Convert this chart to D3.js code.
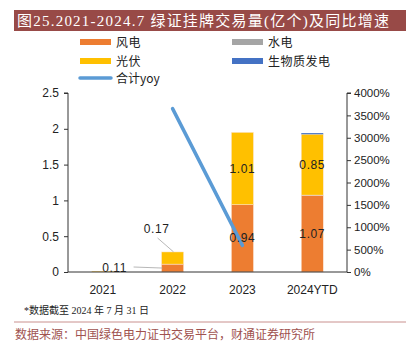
<!DOCTYPE html>
<html><head><meta charset="utf-8">
<script src="https://cdn.jsdelivr.net/npm/d3@7"></script>
<style>
body{margin:0;background:#fff}
svg{display:block}
</style></head><body>
<div id="chart"></div>
<script>
const years=["2021","2022","2023","2024YTD"];
const wind=[0.002,0.11,0.94,1.07];
const hydro=[0,0,0,0.004];
const solar=[0.006,0.17,1.01,0.85];
const biomass=[0,0,0,0.016];
const yoy=[null,3650,596,null];
const leftTicks=[0,0.5,1,1.5,2,2.5];
const rightTicks=[0,500,1000,1500,2000,2500,3000,3500,4000];
const series=[
  {key:"风电",vals:wind,color:"#ed7d31"},
  {key:"水电",vals:hydro,color:"#a5a5a5"},
  {key:"光伏",vals:solar,color:"#ffc000"},
  {key:"生物质发电",vals:biomass,color:"#4472c4"}
];

(function(){
  const W=414,H=344;
  const svg=d3.select("#chart").append("svg").attr("width",W).attr("height",H);
  const sans="'Liberation Sans',Arial,'Noto Sans CJK SC',sans-serif";
  const cjk="'Noto Sans CJK SC',sans-serif";

  // title bar
  svg.append("rect").attr("x",14).attr("y",10).attr("width",392).attr("height",21).attr("fill","#984a47");
  svg.append("text").attr("x",17).attr("y",26).attr("fill","#fff").attr("font-size",15)
    .attr("font-family","'Liberation Serif','Noto Sans CJK SC',serif")
    .attr("textLength",372).attr("lengthAdjust","spacing")
    .text("图25.2021-2024.7 绿证挂牌交易量(亿个)及同比增速");

  const m={left:68,right:347,top:93,bottom:272};
  const x=d3.scaleBand().domain(years).range([m.left,m.right]).paddingInner(0.685).paddingOuter(0.34);
  const y=d3.scaleLinear().domain([0,2.5]).range([m.bottom,m.top]);
  const y2=d3.scaleLinear().domain([0,4000]).range([m.bottom,m.top]);

  // legend
  const leg=[[80,42],[232,42],[80,61],[232,61]];
  series.forEach((s,i)=>{
    const [lx,ly]=leg[i];
    svg.append("rect").attr("x",lx).attr("y",ly-3).attr("width",31).attr("height",6).attr("fill",s.color);
    svg.append("text").attr("x",lx+36).attr("y",ly+4.5).attr("font-size",12).attr("font-family",cjk)
      .attr("letter-spacing",0.5).attr("fill","#222").text(s.key);
  });
  svg.append("line").attr("x1",80).attr("x2",111).attr("y1",78).attr("y2",78).attr("stroke","#5b9bd5").attr("stroke-width",3.5).attr("stroke-linecap","round");
  svg.append("text").attr("x",116).attr("y",82.5).attr("font-size",12).attr("font-family",cjk).attr("fill","#222").text("合计yoy");

  // stacked bars
  const table=years.map((yr,i)=>{const o={year:yr};series.forEach(s=>o[s.key]=s.vals[i]);return o;});
  const stack=d3.stack().keys(series.map(s=>s.key))(table);
  svg.append("g").selectAll("g").data(stack).join("g").attr("fill",(d,i)=>series[i].color)
    .selectAll("rect").data(d=>d).join("rect")
    .attr("x",d=>x(d.data.year)).attr("width",x.bandwidth())
    .attr("y",d=>y(d[1])).attr("height",d=>y(d[0])-y(d[1]))
    .attr("stroke","#fbe3d3").attr("stroke-width",d=>y(d[0])-y(d[1])>2?0.5:0);

  // axes
  const axL=svg.append("g").attr("transform",`translate(${m.left},0)`)
    .call(d3.axisLeft(y).tickValues(leftTicks).tickSize(4).tickPadding(5).tickFormat(d=>d===0?"0":d3.format("")(d)));
  const axR=svg.append("g").attr("transform",`translate(${m.right},0)`)
    .call(d3.axisRight(y2).tickValues(rightTicks).tickSize(4).tickPadding(3).tickFormat(d=>d+"%"));
  [axL,axR].forEach(a=>{
    a.select(".domain").attr("stroke","#333").attr("d",null);
    a.selectAll(".tick line").attr("stroke","#333");
    a.selectAll("text").attr("font-family",sans).attr("font-size",12).attr("fill","#222");
  });
  axL.select(".domain").attr("d",`M-4,${m.top}H0V${m.bottom}`);
  axR.select(".domain").attr("d",`M4,${m.top}H0V${m.bottom}`);
  axR.selectAll("text").attr("font-size",11.5);
  svg.append("line").attr("x1",m.left).attr("x2",m.right).attr("y1",m.bottom).attr("y2",m.bottom).attr("stroke","#333");
  svg.append("g").selectAll("text").data(years).join("text")
    .attr("x",d=>x(d)+x.bandwidth()/2).attr("y",m.bottom+22).attr("text-anchor","middle")
    .attr("font-family",sans).attr("font-size",12).attr("fill","#222").text(d=>d);

  // yoy line
  const pts=years.map((yr,i)=>({yr,v:yoy[i]})).filter(d=>d.v!=null);
  svg.append("path").datum(pts)
    .attr("d",d3.line().x(d=>x(d.yr)+x.bandwidth()/2).y(d=>y2(d.v)))
    .attr("fill","none").attr("stroke","#5b9bd5").attr("stroke-width",3.5).attr("stroke-linecap","round");

  // data labels
  const lab=(tx,ty,t)=>svg.append("text").attr("x",tx).attr("y",ty).attr("text-anchor","middle")
    .attr("font-family",sans).attr("font-size",12).attr("fill","#222").attr("letter-spacing",0.6).text(t);
  [2,3].forEach(i=>{
    const cx=x(years[i])+x.bandwidth()/2;
    lab(cx,y(wind[i]/2)+4,wind[i].toFixed(2));
    lab(cx,y(wind[i]+hydro[i]+solar[i]/2)+4,solar[i].toFixed(2));
  });
  // 2022 callouts with leader lines
  const c22=x(years[1])+x.bandwidth()/2;
  lab(c22-16,233,solar[1].toFixed(2));
  svg.append("line").attr("x1",c22-15).attr("y1",238).attr("x2",c22+1).attr("y2",y(wind[1]+solar[1]))
    .attr("stroke","#a5a5a5").attr("stroke-width",0.8);
  lab(c22-58,272,wind[1].toFixed(2));
  svg.append("line").attr("x1",c22-39).attr("y1",267).attr("x2",c22-10).attr("y2",y(wind[1]/2))
    .attr("stroke","#a5a5a5").attr("stroke-width",0.8);

  // footnote and source
  svg.append("text").attr("x",24).attr("y",314).attr("font-size",10).attr("fill","#222")
    .attr("font-family","'Liberation Serif','Noto Sans CJK SC',serif").text("*数据截至 2024 年 7 月 31 日");
  svg.append("line").attr("x1",14).attr("x2",406).attr("y1",322).attr("y2",322).attr("stroke","#c9908e").attr("stroke-width",1);
  svg.append("text").attr("x",15).attr("y",339).attr("font-size",12).attr("fill","#a0524f")
    .attr("font-family",cjk).text("数据来源：中国绿色电力证书交易平台，财通证券研究所");
})();
</script>
</body></html>
